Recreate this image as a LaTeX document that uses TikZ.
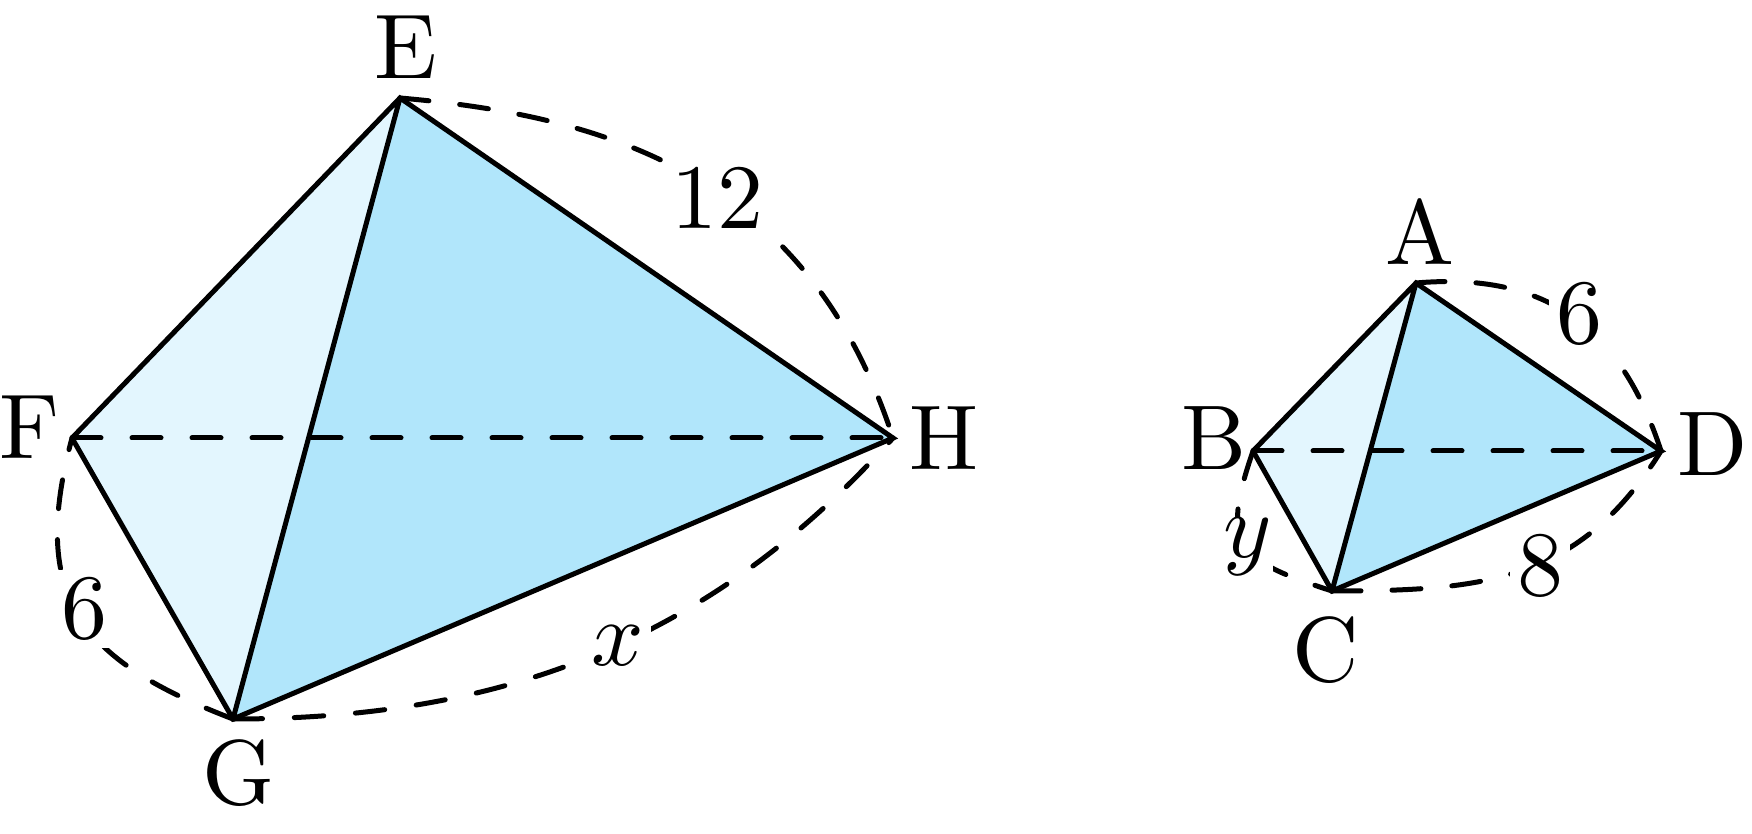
\documentclass[tikz,border=0pt]{standalone}
\usepackage{graphicx}
\definecolor{faceL}{HTML}{E3F6FE}
\definecolor{faceD}{HTML}{B1E6FB}
\newcommand{\tx}[1]{\scalebox{9.2}{\fontsize{10}{12}\selectfont #1}}
\tikzset{
  x=1pt,y=1pt,
  lab/.style={inner sep=0pt},
  onarc/.style={lab,fill=white,inner sep=7pt},
  solidedge/.style={line width=5pt,black,line join=miter},
  dashline/.style={line width=5pt,black,line cap=round,dash pattern=on 29pt off 31pt},
  longdash/.style={dash pattern=on 29.5pt off 31.8pt},
  arcTR/.style={out=-5,in=108,out looseness=.85,in looseness=1.2},
  arcBR/.style={out=0,in=228,looseness=.97},
  arcBL/.style={out=159,in=255,looseness=1.3},
  smallTR/.style={out=5,in=108,looseness=1.12},
  smallBR/.style={out=0,in=238,looseness=1.1},
  smallBL/.style={out=251,in=162,looseness=1.6}
}
\begin{document}
\begin{tikzpicture}
\useasboundingbox (0,0) rectangle (1752,833);
\coordinate (E) at (400,735);
\coordinate (F) at (72,395);
\coordinate (G) at (233,114);
\coordinate (H) at (893,395);
\coordinate (A) at (1416,550);
\coordinate (B) at (1253,382);
\coordinate (C) at (1332,242);
\coordinate (D) at (1661,382);
\fill[faceL] (E)--(F)--(G)--cycle;
\fill[faceD] (E)--(H)--(G)--cycle;
\fill[faceL] (A)--(B)--(C)--cycle;
\fill[faceD] (A)--(D)--(C)--cycle;
\draw[solidedge] (F)--(E)--(H)--(G)--(F) (E)--(G);
\draw[solidedge] (B)--(A)--(D)--(C)--(B) (A)--(C);
\draw[dashline] (F)--(H);
\draw[dashline] (B)--(D);
\draw[dashline] (E) to[arcTR] (H);
\draw[dashline,longdash] (G) to[arcBR] (H);
\draw[dashline] (G) to[arcBL] (F);
\draw[dashline] (A) to[smallTR] (D);
\draw[dashline] (C) to[smallBR] (D);
\draw[dashline] (B) to[smallBL] (C);
\node[onarc] (n12) at (717,635) {\tx{12}};
\node[onarc] (nx) at (618,187) {\tx{$x$}};
\node[onarc] (n6) at (84,224) {\tx{6}};
\node[onarc] (n6b) at (1579,519) {\tx{6}};
\node[onarc] (n8) at (1540,267) {\tx{8}};
\node[onarc,inner sep=1pt] (ny) at (1248,286) {\tx{$y$}};
\node[lab] (lE) at (406,786) {\tx{E}};
\node[lab] (lF) at (30,406) {\tx{F}};
\node[lab] (lG) at (239,60) {\tx{G}};
\node[lab] (lH) at (944,395) {\tx{H}};
\node[lab] (lA) at (1420,601) {\tx{A}};
\node[lab] (lB) at (1214,395) {\tx{B}};
\node[lab] (lC) at (1326,183) {\tx{C}};
\node[lab] (lD) at (1713,389) {\tx{D}};
\end{tikzpicture}
\end{document}
